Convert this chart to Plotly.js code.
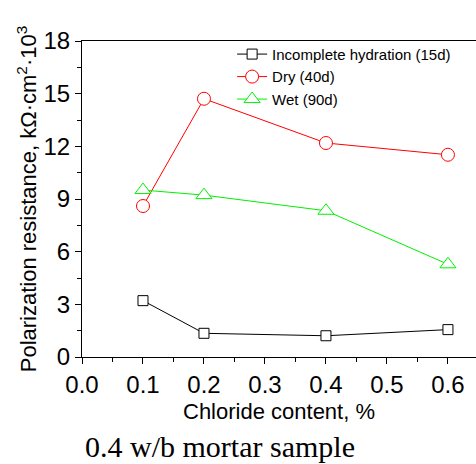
<!DOCTYPE html>
<html>
<head>
<meta charset="utf-8">
<script src="https://cdn.plot.ly/plotly-3.0.1.min.js"></script>
<style>html,body{margin:0;padding:0;background:#fff;}#chart{width:476px;height:464px;}</style>
</head>
<body>
<div id="chart"></div>
<script>
const chloride = [0.1, 0.2, 0.4, 0.6];
const incomplete15d = [3.21, 1.35, 1.21, 1.56];
const dry40d = [8.6, 14.71, 12.19, 11.52];
const wet90d = [9.51, 9.22, 8.33, 5.28];
const seriesNames = ['Incomplete hydration (15d)', 'Dry (40d)', 'Wet (90d)'];
const xTitle = 'Chloride content, %';
const yTitle = 'Polarization resistance, kΩ·cm<sup>2</sup>·10<sup>3</sup>';
const caption = '0.4 w/b mortar sample';

const FONT = 'Arial, "Liberation Sans", sans-serif';

function trace(y, name, color, symbol, size) {
  return {
    x: chloride, y: y, name: name, type: 'scatter', mode: 'lines+markers',
    line: {color: color, width: 1},
    marker: {symbol: symbol, size: size, color: '#ffffff', line: {color: color, width: 1}},
    cliponaxis: false
  };
}

const data = [
  trace(incomplete15d, seriesNames[0], '#000000', 'square', 10),
  trace(dry40d, seriesNames[1], '#ff0000', 'circle', 13),
  trace(wet90d, seriesNames[2], '#00f000', 'triangle-up', 14)
];

const layout = {
  width: 476, height: 464,
  margin: {l: 82, r: 0, t: 41, b: 107},
  paper_bgcolor: '#ffffff', plot_bgcolor: '#ffffff',
  font: {family: FONT, color: '#000000'},
  showlegend: true,
  legend: {
    x: 0.381, y: 1.01, xanchor: 'left', yanchor: 'top',
    bgcolor: 'rgba(0,0,0,0)', borderwidth: 0,
    font: {family: FONT, size: 15, color: '#000000'},
    tracegroupgap: 0
  },
  xaxis: {
    range: [0, 0.646], tick0: 0, dtick: 0.1, tickformat: '.1f',
    ticks: 'outside', ticklen: 6, tickwidth: 1, tickcolor: '#000',
    minor: {dtick: 0.05, ticks: 'outside', ticklen: 4, tickcolor: '#000', showgrid: false},
    showline: true, linecolor: '#000', linewidth: 1, mirror: true,
    showgrid: false, zeroline: false,
    tickfont: {family: FONT, size: 24, color: '#000'},
    title: {text: xTitle, font: {family: FONT, size: 22, color: '#000'}, standoff: 6}
  },
  yaxis: {
    range: [0, 18], tick0: 0, dtick: 3,
    ticks: 'outside', ticklen: 6, tickwidth: 1, tickcolor: '#000',
    minor: {dtick: 1.5, ticks: 'outside', ticklen: 4, tickcolor: '#000', showgrid: false},
    showline: true, linecolor: '#000', linewidth: 1, mirror: false,
    showgrid: false, zeroline: false,
    tickfont: {family: FONT, size: 24, color: '#000'},
    title: {text: yTitle, font: {family: FONT, size: 22, color: '#000'}, standoff: 0}
  },
  annotations: [{
    text: caption, xref: 'paper', yref: 'paper',
    x: 0.35, y: -0.282, xanchor: 'center', yanchor: 'middle',
    showarrow: false,
    font: {family: '"Liberation Serif", "Times New Roman", serif', size: 30, color: '#000'}
  }]
};

Plotly.newPlot('chart', data, layout, {displayModeBar: false, staticPlot: true});
</script>
</body>
</html>
